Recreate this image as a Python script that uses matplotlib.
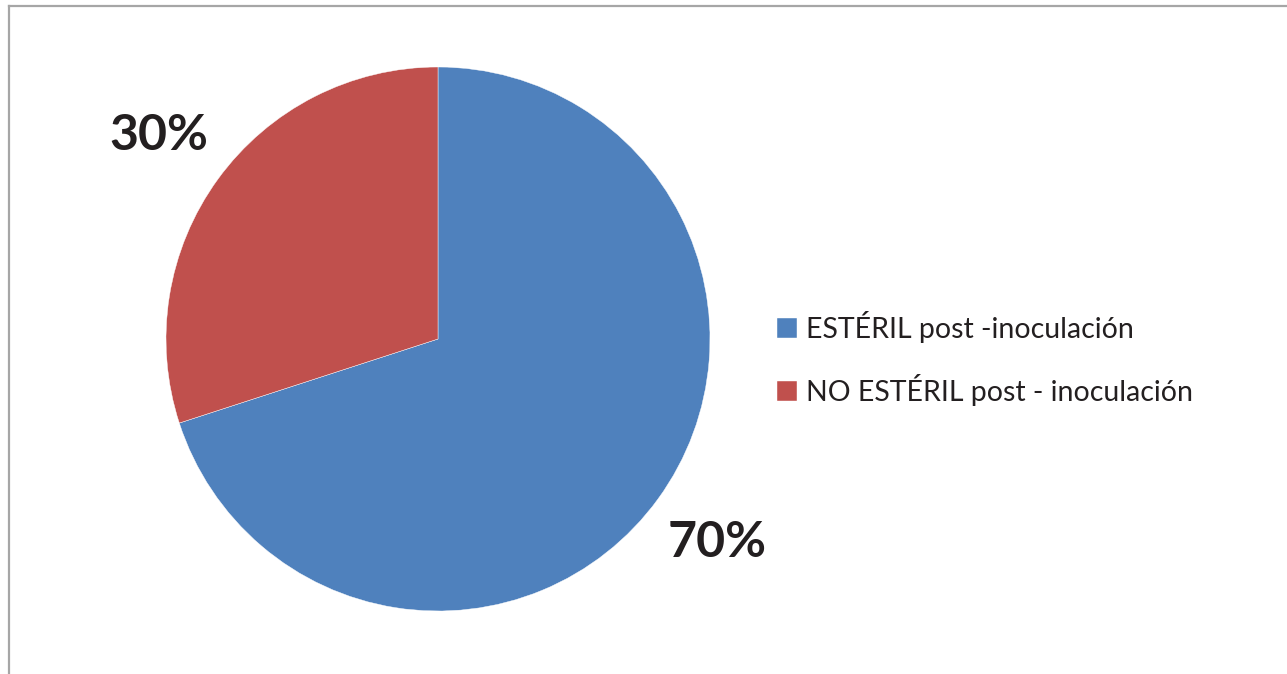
import matplotlib.pyplot as plt
from matplotlib.lines import Line2D

labels = ['ESTÉRIL post -inoculación', 'NO ESTÉRIL post - inoculación']
values = [70, 30]
colors = ['#4F81BD', '#C0504D']

W, H = 1287, 674
fig = plt.figure(figsize=(W / 100, H / 100), dpi=100)
fig.patch.set_facecolor('white')

# chart frame (top and left edges are visible)
fig.add_artist(Line2D([9 / W, 1286 / W], [1 - 6 / H, 1 - 6 / H], color='#A6A6A6', lw=1.6))
fig.add_artist(Line2D([9 / W, 9 / W], [0, 1 - 6 / H], color='#A6A6A6', lw=1.6))

cx, cy, r = 438, 339, 272
ax = fig.add_axes([(cx - r) / W, (H - cy - r) / H, 2 * r / W, 2 * r / H])
wedges, _, pcts = ax.pie(values, colors=colors, startangle=90, counterclock=False,
                         radius=1, autopct='%1.0f%%', pctdistance=1.27,
                         wedgeprops=dict(linewidth=0.3, edgecolor='white'),
                         textprops=dict(fontsize=36, fontweight='bold', color='#231F20',
                                        family='Lato'))
ax.set_xlim(-1, 1)
ax.set_ylim(-1, 1)
ax.set_aspect('equal')
ax.axis('off')

leg = fig.legend(wedges, labels, loc='upper left',
                 bbox_to_anchor=(777 / W, 1 - 311 / H),
                 frameon=False, prop=dict(family='Lato', size=20.5),
                 handlelength=0.7, handleheight=0.7, handletextpad=0.32,
                 labelspacing=1.1, borderaxespad=0, borderpad=0)
for t in leg.get_texts():
    t.set_color('#231F20')

fig.savefig('out.png', dpi=100)
